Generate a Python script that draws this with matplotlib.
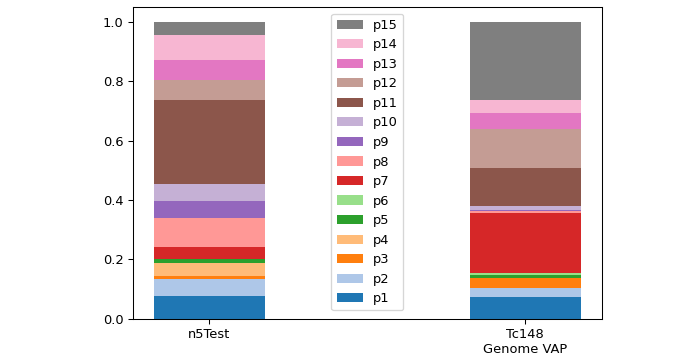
import matplotlib
matplotlib.use("Agg")
import matplotlib.pyplot as plt
import numpy as np

categories = ["n5Test", "Tc148\nGenome VAP"]
series = ["p1", "p2", "p3", "p4", "p5", "p6", "p7", "p8", "p9", "p10",
          "p11", "p12", "p13", "p14", "p15"]
n5test = [0.076, 0.058, 0.009, 0.045, 0.012, 0.001, 0.041, 0.097, 0.058,
          0.056, 0.283, 0.070, 0.065, 0.084, 0.045]
tc148 = [0.073, 0.031, 0.034, 0.001, 0.008, 0.006, 0.205, 0.006, 0.004,
         0.011, 0.129, 0.132, 0.054, 0.042, 0.264]

DPI = 94
fig = plt.figure(figsize=(684 / DPI, 355 / DPI), dpi=DPI)
ax = fig.add_axes([0.194, 0.102, 0.686, 0.878])

cmap = plt.get_cmap("tab20")
x = np.arange(len(categories))
bottom = np.zeros(len(categories))
handles = []
for i, name in enumerate(series):
    vals = np.array([n5test[i], tc148[i]])
    h = ax.bar(x, vals, 0.35, bottom=bottom, color=cmap(i), label=name)
    handles.append(h)
    bottom += vals

ax.set_xticks(x)
ax.set_xticklabels(categories)
ax.set_yticks([0.0, 0.2, 0.4, 0.6, 0.8, 1.0])
ax.legend(handles[::-1], series[::-1], loc="upper center")

fig.savefig("out.png", dpi=DPI)
